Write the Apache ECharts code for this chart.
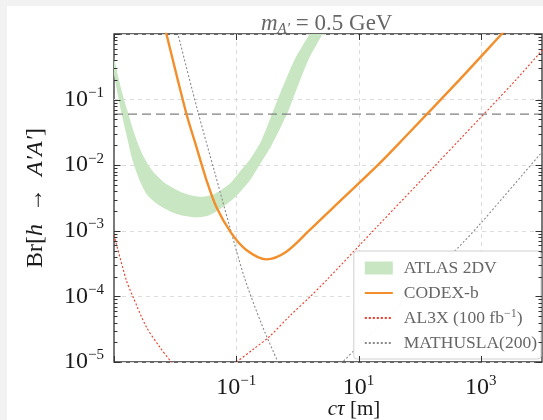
<!DOCTYPE html>
<html lang="en">
<head>
<meta charset="UTF-8">
<title>Br h to A'A'</title>
<script src="https://cdn.jsdelivr.net/npm/echarts@6.0.0/dist/echarts.min.js"></script>
<style>
  html, body { margin: 0; padding: 0; background: #f2f2f2; }
  #chart { position: absolute; left: 7px; top: 6px; width: 536px; height: 414px; background: #fff; }
</style>
</head>
<body>
<div id="chart"></div>
<script>
    // values: [c tau (m), Br]
    var atlasOuter = [[9.2e-4, 0.35], [1.0e-3, 0.24], [1.15e-3, 0.12], [1.34e-3, 0.059], [1.6e-3, 0.029],
        [2.0e-3, 0.012], [2.6e-3, 6.0e-3], [3.5e-3, 3.5e-3], [5.6e-3, 2.4e-3], [0.0106, 1.8e-3],
        [0.022, 1.6e-3], [0.037, 1.74e-3], [0.06, 2.3e-3], [0.1, 3.4e-3], [0.165, 5.8e-3],
        [0.24, 0.0101], [0.38, 0.0204], [0.69, 0.063], [0.83, 0.099], [1.52, 0.41], [2.57, 1.0], [3.2, 1.54]];
    var atlasInner = [[9.2e-4, 0.54], [1.0e-3, 0.43], [1.15e-3, 0.24], [1.39e-3, 0.118], [1.68e-3, 0.065],
        [2.18e-3, 0.029], [2.94e-3, 0.0144], [4.13e-3, 8.5e-3], [6.7e-3, 5.4e-3], [0.0133, 3.8e-3],
        [0.025, 3.3e-3], [0.044, 3.65e-3], [0.078, 5.2e-3], [0.113, 7.9e-3], [0.165, 0.012],
        [0.26, 0.0243], [0.39, 0.063], [0.47, 0.099], [0.90, 0.41], [1.58, 1.0], [1.98, 1.54]];
    var codexB = [[6.6e-3, 1.39], [7.2e-3, 1.0], [0.0152, 0.062], [0.0222, 0.0192], [0.0324, 6.0e-3],
        [0.047, 2.33e-3], [0.083, 9.2e-4], [0.146, 5.1e-4], [0.31, 3.67e-4], [0.66, 4.8e-4],
        [1.58, 1.02e-3], [4.5, 2.6e-3], [21, 0.0102], [56, 0.0262], [446, 0.20], [2270, 1.035], [3150, 1.44]];
    var al3xLow = [[1.0e-3, 8.6e-4], [1.59e-3, 1.77e-4], [2.04e-3, 9.9e-5], [3.38e-3, 3.43e-5],
        [5.58e-3, 1.7e-5], [8.67e-3, 1.0e-5], [0.0119, 7.5e-6]];
    var al3xHigh = [[0.06, 7.5e-6], [0.1, 1.0e-5], [0.187, 1.55e-5], [0.35, 2.45e-5], [0.743, 5.0e-5],
        [1.58, 9.7e-5], [3.05, 1.8e-4], [18.2, 1.05e-3], [185, 0.0102], [446, 0.0243], [3760, 0.20],
        [9640, 0.54], [13150, 0.74]];
    var mathuslaLow = [[0.0102, 1.39], [0.0111, 1.0], [0.0236, 0.0651], [0.0442, 7.9e-3], [0.0776, 1.18e-3],
        [0.1368, 1.9e-4], [0.259, 3.78e-5], [0.479, 1.0e-5], [0.57, 7.0e-6]];
    var mathuslaHigh = [[4.2, 7.6e-6], [5.5, 1.0e-5], [10.35, 1.81e-5], [305, 4.03e-4], [944, 1.23e-3],
        [9640, 0.01525], [13150, 0.0211]];
    var brLimit = 0.06;

    var xMin = 1e-3, xMax = 1e4, yMin = 1e-5, yMax = 1;
    var xTicks = [1e-3, 1e-1, 1e1, 1e3];
    var xLabelExps = [-1, 1, 3];
    var yTicks = [1e-5, 1e-4, 1e-3, 1e-2, 1e-1, 1];
    var yMinorSubs = [2, 3, 4, 5, 6, 7, 8, 9];

    var serif = '"Liberation Serif", "DejaVu Serif", serif';
    var bandColor = '#c8e6c2';
    var frameColor = '#333';

    var myChart = echarts.init(document.getElementById('chart'));

    function expOf(v) {
        return Math.round(Math.log(v) / Math.LN10);
    }
    function powLabel(e) {
        return '{b|10}{s|' + (e < 0 ? '\u2212' + (-e) : e) + '}';
    }
    var labelRich = {
        b: {fontFamily: serif, fontSize: 24, color: '#1a1a1a', lineHeight: 28},
        s: {fontFamily: serif, fontSize: 15, color: '#1a1a1a', lineHeight: 21, verticalAlign: 'top'}
    };

    function renderBand(params, api) {
        if (params.dataIndex !== 0) return;
        var pts = atlasOuter.concat(atlasInner.slice().reverse()).map(function (p) {
            return api.coord(p);
        });
        var cs = params.coordSys;
        return {
            type: 'polygon',
            shape: {points: pts, smooth: 0.25},
            style: {fill: bandColor},
            clipPath: {type: 'rect', shape: {x: cs.x, y: cs.y, width: cs.width, height: cs.height}}
        };
    }

    function renderGrid(params, api) {
        if (params.dataIndex !== 0) return;
        var cs = params.coordSys;
        var kids = [];
        xTicks.slice(1).forEach(function (v) {
            var px = Math.round(api.coord([v, yMin])[0]) + 0.5;
            kids.push({type: 'line', shape: {x1: px, y1: cs.y, x2: px, y2: cs.y + cs.height},
                style: {stroke: '#dcdcdc', lineWidth: 1, lineDash: [4, 4]}});
        });
        return {type: 'group', children: kids};
    }

    function renderTicks(params, api) {
        if (params.dataIndex !== 0) return;
        var cs = params.coordSys;
        var l = cs.x, r = cs.x + cs.width, t = cs.y, b = cs.y + cs.height;
        var kids = [];
        function seg(x1, y1, x2, y2) {
            kids.push({type: 'line', shape: {x1: x1, y1: y1, x2: x2, y2: y2},
                style: {stroke: frameColor, lineWidth: 1}});
        }
        xTicks.forEach(function (v) {
            var px = Math.round(api.coord([v, yMin])[0]) + 0.5;
            seg(px, b, px, b - 6);
            seg(px, t, px, t + 6);
        });
        yTicks.forEach(function (v) {
            var py = Math.round(api.coord([xMin, v])[1]) + 0.5;
            seg(l, py, l + 6.5, py);
            seg(r, py, r - 6.5, py);
        });
        yTicks.slice(0, -1).forEach(function (d) {
            yMinorSubs.forEach(function (k) {
                var py = Math.round(api.coord([xMin, d * k])[1]) + 0.5;
                seg(l, py, l + 3.5, py);
                seg(r, py, r - 3.5, py);
            });
        });
        return {type: 'group', children: kids};
    }

    var option = {
        animation: false,
        title: {
            text: '{m|m}{sub|A\u2032}{t| = 0.5 GeV}',
            left: 249,
            top: 0,
            textStyle: {
                fontWeight: 'normal',
                rich: {
                    m: {fontFamily: serif, fontStyle: 'italic', fontWeight: 'normal', fontSize: 23, color: '#666', lineHeight: 26},
                    sub: {fontFamily: serif, fontStyle: 'italic', fontWeight: 'normal', fontSize: 15, color: '#666', lineHeight: 16, verticalAlign: 'bottom'},
                    t: {fontFamily: serif, fontWeight: 'normal', fontSize: 23, color: '#666', lineHeight: 26}
                }
            }
        },
        grid: {
            left: 107, top: 28, right: 1, bottom: 58,
            show: true, borderColor: frameColor, borderWidth: 1.3,
            outerBoundsMode: 'none'
        },
        legend: {
            orient: 'vertical',
            right: 2,
            bottom: 61,
            selectedMode: false,
            data: [
                {name: 'ATLAS 2DV', icon: 'rect', itemStyle: {color: bandColor, opacity: 1}},
                'CODEX-b', 'AL3X (100 fb-1)', 'MATHUSLA(200)'
            ],
            itemWidth: 28,
            itemHeight: 13,
            itemGap: 5,
            itemStyle: {opacity: 0},
            padding: [7, 4, 6, 10],
            backgroundColor: 'rgba(255,255,255,0.95)',
            borderColor: '#d0d0d0',
            borderWidth: 1,
            borderRadius: 3,
            formatter: function (name) {
                if (name.indexOf('AL3X') === 0) return 'AL3X (100 fb{s|\u22121})';
                return name;
            },
            textStyle: {
                fontFamily: serif, fontSize: 17.5, color: '#666', lineHeight: 20, padding: [0, 0, 0, 6],
                rich: {s: {fontFamily: serif, fontSize: 12, color: '#666', lineHeight: 14, verticalAlign: 'top'}}
            }
        },
        xAxis: {
            type: 'log', logBase: 10, min: xMin, max: xMax,
            axisLine: {show: false},
            axisTick: {show: false},
            splitLine: {show: false},
            axisLabel: {
                margin: 12,
                formatter: function (v) {
                    var e = expOf(v);
                    return xLabelExps.indexOf(e) >= 0 ? powLabel(e) : '';
                },
                rich: labelRich
            },
            name: '{i|c\u03c4} [m]',
            nameLocation: 'middle',
            nameGap: 37,
            nameMoveOverlap: false,
            nameTextStyle: {
                fontFamily: serif, fontSize: 21, color: '#1a1a1a', padding: [0, 0, 0, 52],
                rich: {i: {fontFamily: serif, fontStyle: 'italic', fontSize: 21, color: '#1a1a1a'}}
            }
        },
        yAxis: {
            type: 'log', logBase: 10, min: yMin, max: yMax,
            axisLine: {show: false},
            axisTick: {show: false},
            splitLine: {show: true, lineStyle: {color: '#dcdcdc', width: 1, type: [4, 4]}},
            axisLabel: {
                margin: 10,
                formatter: function (v) {
                    var e = expOf(v);
                    return e === 0 ? '' : powLabel(e);
                },
                rich: labelRich
            },
            name: 'Br[{i|h}\u2002\u2192\u2002{i|A\u2032A\u2032}]',
            nameLocation: 'middle',
            nameGap: 66,
            nameMoveOverlap: false,
            nameTextStyle: {
                fontFamily: serif, fontSize: 24, color: '#1a1a1a',
                rich: {i: {fontFamily: serif, fontStyle: 'italic', fontSize: 24, color: '#1a1a1a'}}
            }
        },
        series: [
            {type: 'custom', name: 'grid', silent: true, z: 1, data: [[1, 1]], renderItem: renderGrid},
            {type: 'custom', name: 'ATLAS 2DV', silent: true, z: 2, data: atlasOuter,
                itemStyle: {color: bandColor}, renderItem: renderBand},
            {type: 'line', name: 'limit', silent: true, z: 3, symbol: 'none', clip: true,
                data: [[xMin, brLimit], [xMax, brLimit]],
                lineStyle: {color: '#808080', width: 1.3, type: [9, 5]}},
            {type: 'line', name: 'MATHUSLA(200)', z: 3, symbol: 'none', smooth: 0.3, clip: true,
                data: mathuslaLow, lineStyle: {color: '#8a8a8a', width: 1.1, type: [2, 2]}, itemStyle: {color: '#8a8a8a'}},
            {type: 'line', name: 'MATHUSLA(200)', z: 3, symbol: 'none', smooth: 0.3, clip: true,
                data: mathuslaHigh, lineStyle: {color: '#8a8a8a', width: 1.1, type: [2, 2]}, itemStyle: {color: '#8a8a8a'}},
            {type: 'line', name: 'AL3X (100 fb-1)', z: 3, symbol: 'none', smooth: 0.3, clip: true,
                data: al3xLow, lineStyle: {color: '#ee3b2b', width: 1.1, type: [2, 2]}, itemStyle: {color: '#ee3b2b'}},
            {type: 'line', name: 'AL3X (100 fb-1)', z: 3, symbol: 'none', smooth: 0.3, clip: true,
                data: al3xHigh, lineStyle: {color: '#ee3b2b', width: 1.1, type: [2, 2]}, itemStyle: {color: '#ee3b2b'}},
            {type: 'line', name: 'CODEX-b', z: 4, symbol: 'none', smooth: 0.3, clip: true,
                data: codexB, lineStyle: {color: '#f28e2b', width: 2.4}, itemStyle: {color: '#f28e2b'}},
            {type: 'custom', name: 'ticks', silent: true, z: 6, data: [[1, 1]], renderItem: renderTicks}
        ]
    };

    myChart.setOption(option);
</script>
</body>
</html>
